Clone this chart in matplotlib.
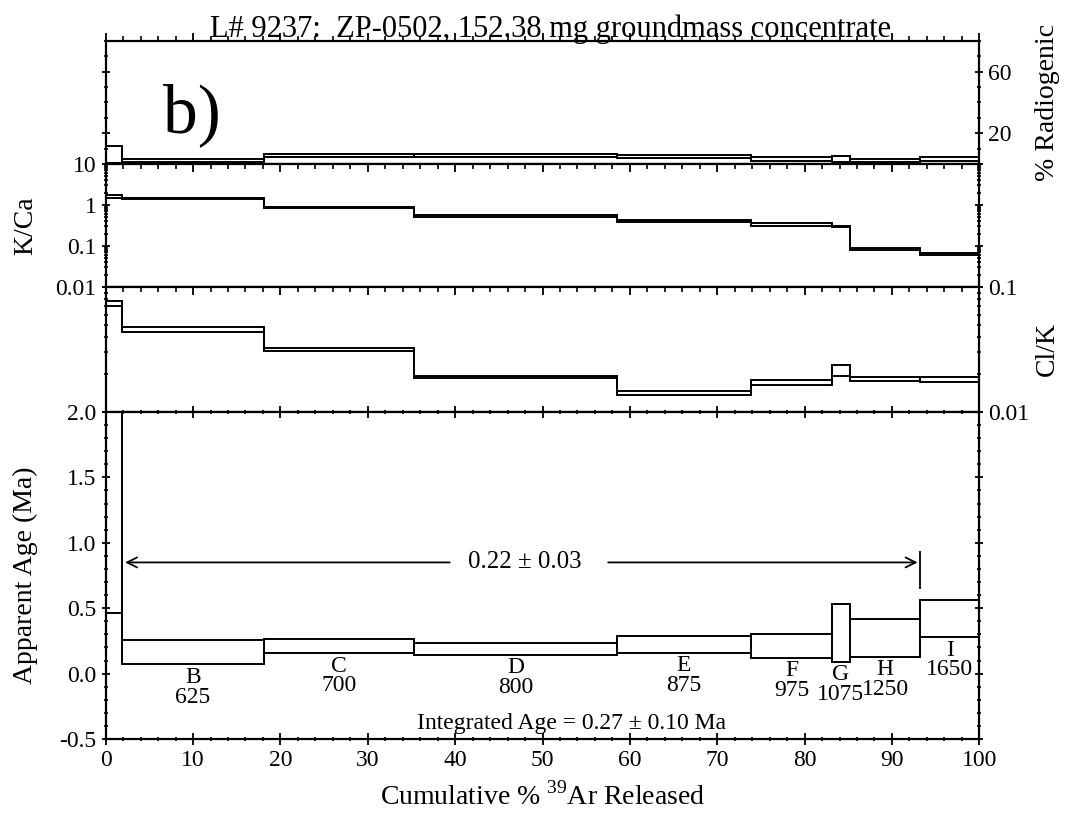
import numpy as np
import matplotlib
matplotlib.use("Agg")
import matplotlib.pyplot as plt
from matplotlib.ticker import MultipleLocator, LogLocator, NullFormatter, FixedLocator

plt.rcParams['font.family'] = ['Liberation Serif', 'DejaVu Serif']
plt.rcParams['mathtext.fontset'] = 'custom'
plt.rcParams['mathtext.rm'] = 'Liberation Serif'

# step boundaries (cumulative % 39Ar released)
step_edges = [0, 1.9, 18.1, 35.3, 58.5, 73.9, 83.1, 85.2, 93.25, 100]
step_letters = ['A', 'B', 'C', 'D', 'E', 'F', 'G', 'H', 'I']
step_temps = ['', '625', '700', '800', '875', '975', '1075', '1250', '1650']

# % radiogenic (lower / upper edge of each box)
rad_low = [0.5, 1.1, 4.7, 4.5, 3.9, 2.1, 1.0, 1.3, 1.7]
rad_high = [12.0, 3.0, 6.5, 6.2, 6.0, 4.3, 5.4, 3.0, 4.3]

# K/Ca
kca_low = [1.5, 1.38, 0.83, 0.52, 0.39, 0.31, 0.29, 0.080, 0.059]
kca_high = [1.75, 1.48, 0.89, 0.57, 0.43, 0.37, 0.31, 0.090, 0.066]

# Cl/K
clk_low = [0.070, 0.044, 0.0305, 0.0186, 0.0138, 0.0163, 0.0195, 0.0177, 0.0175]
clk_high = [0.077, 0.0475, 0.0328, 0.0194, 0.0148, 0.0179, 0.0237, 0.0192, 0.0190]

# apparent age (Ma)
age_low = [0.46, 0.07, 0.158, 0.145, 0.16, 0.12, 0.09, 0.13, 0.28]
age_high = [2.6, 0.258, 0.268, 0.237, 0.29, 0.30, 0.53, 0.42, 0.56]

plateau_age = 0.22
plateau_err = 0.03
plateau_start, plateau_end = 1.9, 93.25
integrated_text = 'Integrated Age = 0.27 \u00b1 0.10 Ma'
title_text = 'L# 9237:  ZP-0502, 152.38 mg groundmass concentrate'

LW = 1.4
FS_TICK = 17
FS_LABEL = 20

W, H = 1075, 814
fig = plt.figure(figsize=(W / 100, H / 100), dpi=100)
x0, x1 = 105.7, 979.3
rows = [40.7, 164, 287, 412, 739]
axes = []
for i in range(4):
    top, bot = rows[i], rows[i + 1]
    ax = fig.add_axes([x0 / W, 1 - bot / H, (x1 - x0) / W, (bot - top) / H])
    axes.append(ax)
ax_rad, ax_kca, ax_clk, ax_age = axes


def draw_steps(ax, low, high):
    low = np.asarray(low)
    high = np.asarray(high)
    edges = np.asarray(step_edges)
    ax.stairs(high, edges, baseline=None, color='k', lw=LW)
    ax.stairs(low, edges, baseline=None, color='k', lw=LW)
    # vertical edges at every boundary
    ymin = np.minimum(np.r_[low, low[-1]], np.r_[low[0], low])
    ymax = np.maximum(np.r_[high, high[-1]], np.r_[high[0], high])
    ax.vlines(edges, ymin, ymax, color='k', lw=LW)


for ax in axes:
    ax.set_xlim(0, 100)
    ax.xaxis.set_major_locator(MultipleLocator(10))
    ax.xaxis.set_minor_locator(MultipleLocator(2))
    for s in ax.spines.values():
        s.set_linewidth(1.6)
    ax.tick_params(axis='both', which='major', length=6, width=1.3, labelsize=FS_TICK)
    ax.tick_params(axis='both', which='minor', length=3.5, width=1.2)
    ax.tick_params(axis='x', which='both', top=True, bottom=False, labelbottom=False,
                   direction='in')
    ax.tick_params(axis='y', which='both', left=True, right=True, direction='inout',
                   labelleft=False, labelright=False)

# top panel: % radiogenic
draw_steps(ax_rad, rad_low, rad_high)
ax_rad.set_ylim(0, 80)
ax_rad.yaxis.set_major_locator(FixedLocator([20, 60]))
ax_rad.yaxis.set_minor_locator(MultipleLocator(10))
ax_rad.tick_params(axis='y', labelright=True)
ax_rad.tick_params(axis='x', which='both', direction='out')
ax_rad.yaxis.set_label_position('right')
ax_rad.set_ylabel('% Radiogenic', fontsize=FS_LABEL)
ax_rad.yaxis.set_label_coords(1.064, 0.5)
ax_rad.text(0.066, 0.26, 'b)', transform=ax_rad.transAxes, fontsize=50,
            ha='left', va='baseline')

# K/Ca
draw_steps(ax_kca, kca_low, kca_high)
ax_kca.set_yscale('log')
ax_kca.set_ylim(0.01, 10)
ax_kca.yaxis.set_major_locator(FixedLocator([0.01, 0.1, 1, 10]))
ax_kca.yaxis.set_minor_locator(LogLocator(base=10, subs=np.arange(2, 10)))
ax_kca.yaxis.set_minor_formatter(NullFormatter())
ax_kca.set_yticklabels(['0.01', '0.1', '1', '10'])
ax_kca.tick_params(axis='y', labelleft=True)
ax_kca.set_ylabel('K/Ca', fontsize=FS_LABEL)
ax_kca.yaxis.set_label_coords(-0.0775, 0.5)

# Cl/K
draw_steps(ax_clk, clk_low, clk_high)
ax_clk.set_yscale('log')
ax_clk.set_ylim(0.01, 0.1)
ax_clk.yaxis.set_major_locator(FixedLocator([0.01, 0.1]))
ax_clk.yaxis.set_minor_locator(LogLocator(base=10, subs=np.arange(2, 10)))
ax_clk.yaxis.set_minor_formatter(NullFormatter())
ax_clk.set_yticklabels(['0.01', '0.1'])
ax_clk.tick_params(axis='y', labelright=True)
ax_clk.yaxis.set_label_position('right')
ax_clk.set_ylabel('Cl/K', fontsize=FS_LABEL)
ax_clk.yaxis.set_label_coords(1.064, 0.5)

# apparent age
draw_steps(ax_age, age_low, age_high)
ax_age.set_ylim(-0.5, 2.0)
ax_age.yaxis.set_major_locator(MultipleLocator(0.5))
ax_age.yaxis.set_minor_locator(MultipleLocator(0.1))
ax_age.yaxis.set_major_formatter(plt.FormatStrFormatter('%.1f'))
ax_age.tick_params(axis='y', labelleft=True)
ax_age.tick_params(axis='x', which='both', bottom=True, labelbottom=True,
                   direction='inout')
ax_age.tick_params(axis='x', which='major', length=8, pad=4)
ax_age.set_ylabel('Apparent Age (Ma)', fontsize=FS_LABEL)
ax_age.yaxis.set_label_coords(-0.0775, 0.5)
ax_age.set_xlabel('Cumulative % $^{39}$Ar Released', fontsize=FS_LABEL, labelpad=8)

mids = [(a + b) / 2 for a, b in zip(step_edges[:-1], step_edges[1:])]
for xm, lo, let, tmp in zip(mids, age_low, step_letters, step_temps):
    if not tmp:
        continue
    ax_age.text(xm, lo - 0.10, let, ha='center', va='center', fontsize=FS_TICK)
    ax_age.text(xm, lo - 0.25, tmp, ha='center', va='center', fontsize=FS_TICK)

# plateau arrow
y_arrow = 0.85
txt_x = 48.0
ax_age.text(txt_x, y_arrow, f'{plateau_age:.2f} \u00b1 {plateau_err:.2f}',
            ha='center', va='center', fontsize=18)
arrow = dict(arrowstyle='->', color='k', lw=1.3, mutation_scale=18)
ax_age.annotate('', xy=(plateau_start, y_arrow), xytext=(39.7, y_arrow), arrowprops=arrow)
ax_age.annotate('', xy=(plateau_end, y_arrow), xytext=(57.2, y_arrow), arrowprops=arrow)
ax_age.vlines(plateau_end, 0.65, 0.94, color='k', lw=1.3)

ax_age.text(53.3, -0.38, integrated_text, ha='center', va='center', fontsize=FS_TICK)

fig.text(551 / W, 1 - 37 / H, title_text, ha='center', va='baseline', fontsize=22)

fig.savefig('out.png', dpi=100)
